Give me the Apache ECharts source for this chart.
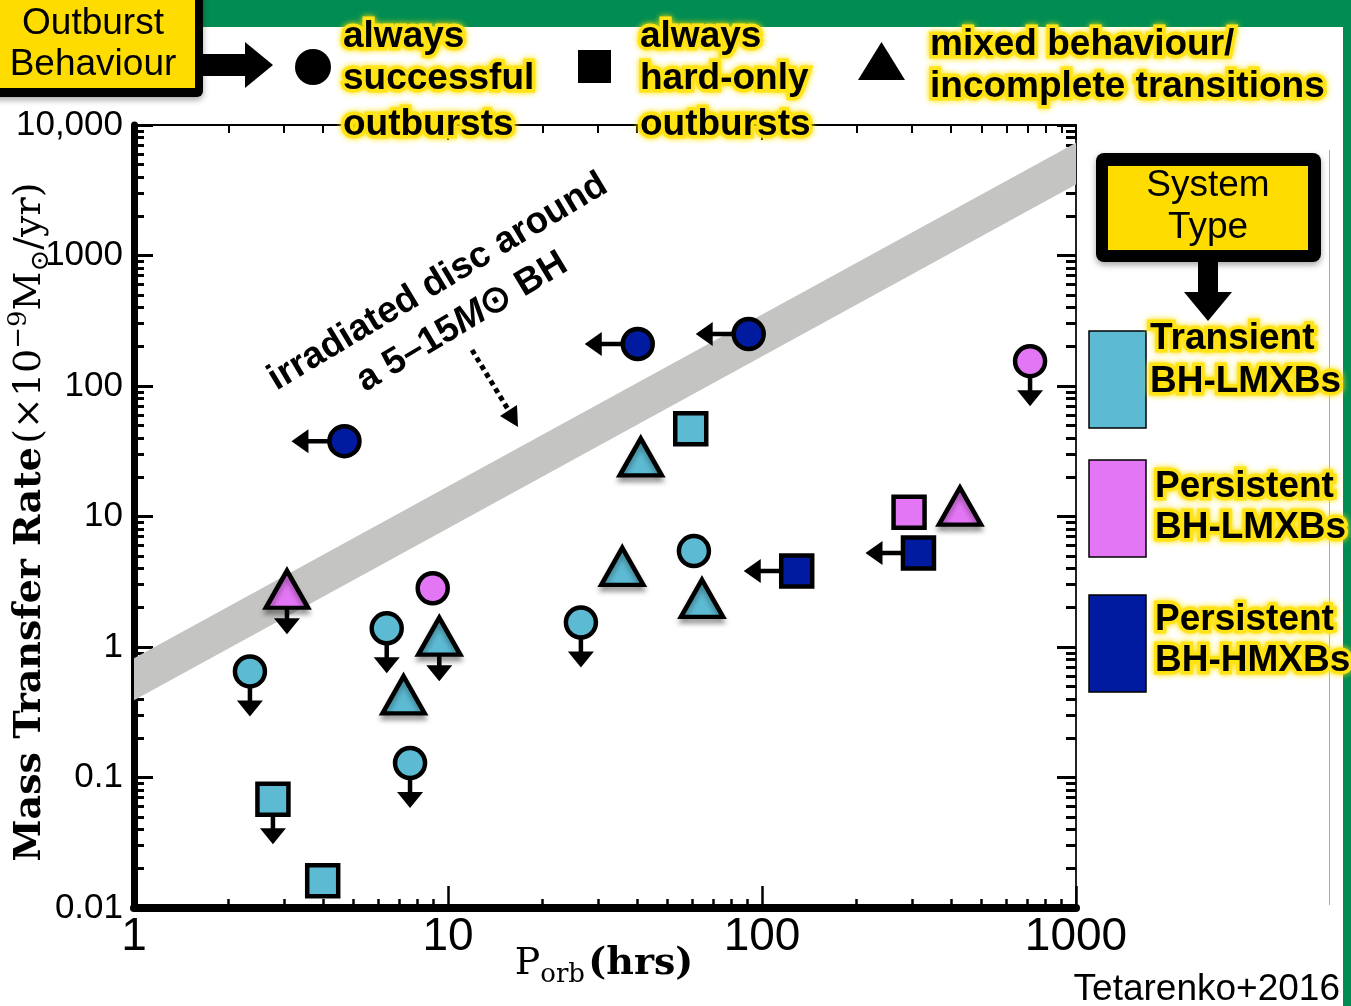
<!DOCTYPE html>
<html>
<head>
<meta charset="utf-8">
<script src="https://cdn.jsdelivr.net/npm/echarts@6/dist/echarts.min.js"></script>
<style>
  html, body { margin: 0; padding: 0; background: #fff; }
  #chart { width: 1351px; height: 1006px; }
</style>
</head>
<body>
<div id="chart"></div>
<script>
// orbital period (hrs) and mass transfer rate (1e-9 Msun/yr) of each system
const porb = [2.34, 3.07, 2.77, 3.99, 6.38, 7.22, 7.57, 8.94, 9.38, 4.68, 26.5, 35.9, 41.1, 59.3, 60.7, 64.4, 129, 40.2, 90.7, 294, 315, 427, 714];
const mdot = [0.65, 2.77, 0.068, 0.0162, 1.39, 0.43, 0.129, 2.82, 1.21, 37.8, 1.54, 4.15, 28.6, 47, 5.43, 2.36, 3.82, 210, 250, 10.8, 5.25, 12.0, 155];
// T = transient BH-LMXB, P = persistent BH-LMXB, H = persistent BH-HMXB
const sysType = ['T', 'P', 'T', 'T', 'T', 'T', 'T', 'P', 'T', 'H', 'T', 'T', 'T', 'T', 'T', 'T', 'H', 'H', 'H', 'P', 'H', 'P', 'P'];
// c = always successful, s = always hard-only, t = mixed / incomplete
const behaviour = ['c', 't', 's', 's', 'c', 't', 'c', 'c', 't', 'c', 'c', 't', 't', 's', 'c', 't', 's', 'c', 'c', 's', 's', 't', 'c'];
// upper limits: 'down' on rate, 'left' on period
const limit = ['down', 'down', 'down', '', 'down', '', 'down', '', 'down', 'left', 'down', '', '', '', '', '', 'left', 'left', 'left', '', 'left', '', 'down'];

// irradiated disc band (edges read at both ends of the axis)
const bandP = [1, 1000];
const bandLow = [0.39, 3500];
const bandHigh = [0.82, 7300];

const xMajor = [1, 10, 100, 1000];
const yMajor = [0.01, 0.1, 1, 10, 100, 1000, 10000];
const yLabels = { 0.01: '0.01', 0.1: '0.1', 1: '1', 10: '10', 100: '100', 1000: '1000', 10000: '10,000' };

function minorTicks(kFrom, kTo) {
  const out = [];
  for (let k = kFrom; k <= kTo; k++) {
    for (let m = 2; m <= 9; m++) out.push(Number((m * Math.pow(10, k)).toPrecision(3)));
  }
  return out;
}
const xMinor = minorTicks(0, 2);
const yMinor = minorTicks(-2, 3);

const typeColor = { T: '#5cbad2', P: '#e376f4', H: '#001ba0' };
const shapeSymbol = { c: 'circle', s: 'rect', t: 'triangle' };
const shapeSize = { c: 30, s: 31, t: [42, 37] };

const scatterData = porb.map((p, i) => {
  const tri = behaviour[i] === 't';
  return {
    value: [p, mdot[i]],
    symbol: shapeSymbol[behaviour[i]],
    symbolSize: shapeSize[behaviour[i]],
    itemStyle: {
      color: typeColor[sysType[i]],
      opacity: 1,
      borderColor: '#000',
      borderWidth: 4.5,
      shadowColor: tri ? 'rgba(0,0,0,0.3)' : 'transparent',
      shadowBlur: tri ? 5 : 0,
      shadowOffsetY: tri ? 5 : 0,
    },
  };
});

const arrowData = [];
porb.forEach((p, i) => {
  if (limit[i]) arrowData.push([p, mdot[i], limit[i] === 'down' ? 0 : 1]);
});

const FONT = 'Liberation Sans, Arial, sans-serif';
const SERIF = 'DejaVu Serif, Liberation Serif, serif';

function glowText(x, y, text) {
  return {
    type: 'text', x: x, y: y, z: 20,
    style: {
      text: text, fill: '#000', font: 'bold 37px ' + FONT, align: 'left', verticalAlign: 'middle',
      stroke: '#ffe41c', lineWidth: 7, textShadowColor: '#ffe000', textShadowBlur: 6,
    },
  };
}
function plainText(x, y, text, size) {
  return {
    type: 'text', x: x, y: y, z: 20,
    style: { text: text, fill: '#000', font: size + 'px ' + FONT, align: 'center', verticalAlign: 'middle' },
  };
}

const chart = echarts.init(document.getElementById('chart'), null, { renderer: 'canvas' });

const axisBase = { type: 'log', logBase: 10, splitLine: { show: false } };

chart.setOption({
  animation: false,
  backgroundColor: '#fff',
  grid: { left: 134, right: 275, top: 125, bottom: 98 },
  xAxis: [
    Object.assign({}, axisBase, {
      min: 1, max: 1000, position: 'bottom',
      axisLine: { show: true, lineStyle: { color: '#000', width: 8 } },
      axisTick: { show: true, inside: true, length: 22, lineStyle: { color: '#000', width: 2.5 }, customValues: xMajor },
      axisLabel: { show: true, customValues: xMajor, margin: 6, color: '#000', fontSize: 46, fontFamily: FONT, formatter: (v) => String(v) },
    }),
    Object.assign({}, axisBase, {
      min: 1, max: 1000, position: 'bottom',
      axisLine: { show: false },
      axisTick: { show: true, inside: true, length: 9, lineStyle: { color: '#000', width: 2.5 }, customValues: xMinor },
      axisLabel: { show: false },
    }),
    Object.assign({}, axisBase, {
      min: 1, max: 1000, position: 'top',
      axisLine: { show: true, lineStyle: { color: '#000', width: 2 } },
      axisTick: { show: true, inside: true, length: 15, lineStyle: { color: '#000', width: 2 }, customValues: xMajor },
      axisLabel: { show: false },
    }),
    Object.assign({}, axisBase, {
      min: 1, max: 1000, position: 'top',
      axisLine: { show: false },
      axisTick: { show: true, inside: true, length: 8, lineStyle: { color: '#000', width: 2 }, customValues: xMinor },
      axisLabel: { show: false },
    }),
  ],
  yAxis: [
    Object.assign({}, axisBase, {
      min: 0.01, max: 10000, position: 'left',
      axisLine: { show: true, lineStyle: { color: '#000', width: 7 } },
      axisTick: { show: true, inside: true, length: 19, lineStyle: { color: '#000', width: 3 }, customValues: yMajor },
      axisLabel: {
        show: true, customValues: yMajor, margin: 11, color: '#000', fontSize: 35, fontFamily: FONT,
        formatter: (v) => yLabels[v] || String(v),
      },
    }),
    Object.assign({}, axisBase, {
      min: 0.01, max: 10000, position: 'left',
      axisLine: { show: false },
      axisTick: { show: true, inside: true, length: 10, lineStyle: { color: '#000', width: 3 }, customValues: yMinor },
      axisLabel: { show: false },
    }),
    Object.assign({}, axisBase, {
      min: 0.01, max: 10000, position: 'right',
      axisLine: { show: true, lineStyle: { color: '#222', width: 2 } },
      axisTick: { show: true, inside: true, length: 19, lineStyle: { color: '#000', width: 3 }, customValues: yMajor },
      axisLabel: { show: false },
    }),
    Object.assign({}, axisBase, {
      min: 0.01, max: 10000, position: 'right',
      axisLine: { show: false },
      axisTick: { show: true, inside: true, length: 10, lineStyle: { color: '#000', width: 3 }, customValues: yMinor },
      axisLabel: { show: false },
    }),
  ],
  series: [
    {
      // grey band of the irradiated-disc limit
      type: 'custom',
      z: 1,
      silent: true,
      data: [0],
      renderItem: (params, api) => ({
        type: 'polygon',
        shape: {
          points: [
            api.coord([bandP[0], bandLow[0]]),
            api.coord([bandP[1], bandLow[1]]),
            api.coord([bandP[1], bandHigh[1]]),
            api.coord([bandP[0], bandHigh[0]]),
          ],
        },
        style: { fill: '#c4c4c2' },
      }),
    },
    {
      // upper-limit arrows
      type: 'custom',
      z: 2,
      silent: true,
      data: arrowData,
      renderItem: (params, api) => {
        const p = api.coord([api.value(0), api.value(1)]);
        if (api.value(2) === 0) {
          const tipY = p[1] + 45;
          return {
            type: 'group',
            children: [
              { type: 'line', shape: { x1: p[0], y1: p[1], x2: p[0], y2: tipY - 12 }, style: { stroke: '#000', lineWidth: 4.5 } },
              { type: 'polygon', shape: { points: [[p[0] - 13, tipY - 16], [p[0] + 13, tipY - 16], [p[0], tipY]] }, style: { fill: '#000' } },
            ],
          };
        }
        const tipX = p[0] - 53;
        return {
          type: 'group',
          children: [
            { type: 'line', shape: { x1: p[0], y1: p[1], x2: tipX + 12, y2: p[1] }, style: { stroke: '#000', lineWidth: 4.5 } },
            { type: 'polygon', shape: { points: [[tipX + 17, p[1] - 12], [tipX + 17, p[1] + 12], [tipX, p[1]]] }, style: { fill: '#000' } },
          ],
        };
      },
    },
    {
      type: 'scatter',
      z: 3,
      data: scatterData,
    },
  ],
  graphic: [
    // green frame
    { type: 'rect', shape: { x: 190, y: 0, width: 1161, height: 27 }, style: { fill: '#008c53' }, z: 5 },
    { type: 'rect', shape: { x: 1343, y: 0, width: 8, height: 1006 }, style: { fill: '#008c53' }, z: 5 },
    { type: 'line', shape: { x1: 1329.5, y1: 150, x2: 1329.5, y2: 905 }, style: { stroke: '#aaa', lineWidth: 1 }, z: 5 },

    // Outburst Behaviour box + arrow
    { type: 'rect', shape: { x: -10, y: -10, width: 213, height: 107, r: 6 }, style: { fill: '#000', shadowColor: 'rgba(0,0,0,0.35)', shadowBlur: 6, shadowOffsetY: 3 }, z: 6 },
    { type: 'rect', shape: { x: -10, y: -10, width: 205, height: 98 }, style: { fill: '#ffdc00' }, z: 7 },
    plainText(93, 24, 'Outburst', 37),
    plainText(93, 65, 'Behaviour', 37),
    { type: 'rect', shape: { x: 196, y: 54, width: 52, height: 22 }, style: { fill: '#000' }, z: 6 },
    { type: 'polygon', shape: { points: [[245, 42], [245, 88], [273, 65]] }, style: { fill: '#000' }, z: 6 },

    // behaviour legend
    { type: 'circle', shape: { cx: 313, cy: 67, r: 18 }, style: { fill: '#000' }, z: 10 },
    glowText(343, 37, 'always'),
    glowText(343, 79, 'successful'),
    glowText(343, 125, 'outbursts'),
    { type: 'rect', shape: { x: 578, y: 50, width: 33, height: 33 }, style: { fill: '#000' }, z: 10 },
    glowText(640, 37, 'always'),
    glowText(640, 79, 'hard-only'),
    glowText(640, 125, 'outbursts'),
    { type: 'polygon', shape: { points: [[858, 80], [905, 80], [881.5, 42]] }, style: { fill: '#000' }, z: 10 },
    glowText(930, 45, 'mixed behaviour/'),
    glowText(930, 87, 'incomplete transitions'),

    // System Type box + arrow
    { type: 'rect', shape: { x: 1096, y: 153, width: 225, height: 109, r: 8 }, style: { fill: '#000', shadowColor: 'rgba(0,0,0,0.35)', shadowBlur: 6, shadowOffsetY: 3 }, z: 6 },
    { type: 'rect', shape: { x: 1108, y: 166, width: 200, height: 84 }, style: { fill: '#ffdc00' }, z: 7 },
    plainText(1208, 186, 'System', 37),
    plainText(1208, 228, 'Type', 37),
    { type: 'rect', shape: { x: 1198, y: 260, width: 20, height: 34 }, style: { fill: '#000' }, z: 6 },
    { type: 'polygon', shape: { points: [[1184, 292], [1232, 292], [1208, 321]] }, style: { fill: '#000' }, z: 6 },

    // system type swatches
    { type: 'rect', shape: { x: 1089, y: 331, width: 57, height: 97 }, style: { fill: typeColor.T, stroke: '#000', lineWidth: 1.5 }, z: 10 },
    glowText(1150, 339, 'Transient'),
    glowText(1150, 382, 'BH-LMXBs'),
    { type: 'rect', shape: { x: 1089, y: 460, width: 57, height: 97 }, style: { fill: typeColor.P, stroke: '#000', lineWidth: 1.5 }, z: 10 },
    glowText(1155, 487, 'Persistent'),
    glowText(1155, 528, 'BH-LMXBs'),
    { type: 'rect', shape: { x: 1089, y: 595, width: 57, height: 97 }, style: { fill: typeColor.H, stroke: '#000', lineWidth: 1.5 }, z: 10 },
    glowText(1155, 620, 'Persistent'),
    glowText(1155, 661, 'BH-HMXBs'),

    // band annotation
    {
      type: 'text', x: 450, y: 302, rotation: 31 * Math.PI / 180, z: 20,
      style: {
        text: 'irradiated disc around\na 5–15{i|M}⊙ BH',
        fill: '#000', font: 'bold 37px ' + FONT, align: 'center', verticalAlign: 'middle', lineHeight: 47,
        rich: { i: { fontStyle: 'italic', fontWeight: 'bold', fontSize: 37, fontFamily: FONT } },
      },
    },
    { type: 'line', shape: { x1: 472, y1: 350, x2: 509, y2: 411 }, style: { stroke: '#000', lineWidth: 5, lineDash: [5, 4] }, z: 20 },
    { type: 'polygon', shape: { points: [[517, 405], [500, 416], [518, 427]] }, style: { fill: '#000' }, z: 20 },

    // axis titles
    {
      type: 'text', x: 30, y: 522, rotation: Math.PI / 2, z: 20,
      style: {
        text: '{b|Mass Transfer Rate} {r|(×10}{sup|−9}{r|M}{sub|⊙}{r|/yr)}',
        fill: '#000', align: 'center', verticalAlign: 'middle',
        rich: {
          b: { fontFamily: SERIF, fontWeight: 'bold', fontSize: 38, lineHeight: 48 },
          r: { fontFamily: SERIF, fontSize: 38, lineHeight: 48 },
          sup: { fontFamily: SERIF, fontSize: 26, lineHeight: 48, verticalAlign: 'top' },
          sub: { fontFamily: SERIF, fontSize: 26, lineHeight: 48, verticalAlign: 'bottom' },
        },
      },
    },
    {
      type: 'text', x: 604, y: 964, z: 20,
      style: {
        text: '{r|P}{sub|orb} {b|(hrs)}',
        fill: '#000', align: 'center', verticalAlign: 'middle',
        rich: {
          r: { fontFamily: SERIF, fontSize: 38, lineHeight: 48 },
          sub: { fontFamily: SERIF, fontSize: 26, lineHeight: 48, verticalAlign: 'bottom' },
          b: { fontFamily: SERIF, fontWeight: 'bold', fontSize: 38, lineHeight: 48 },
        },
      },
    },
    {
      type: 'text', x: 1340, y: 990, z: 20,
      style: { text: 'Tetarenko+2016', fill: '#000', font: '37px ' + FONT, align: 'right', verticalAlign: 'middle' },
    },
  ],
});
</script>
</body>
</html>
